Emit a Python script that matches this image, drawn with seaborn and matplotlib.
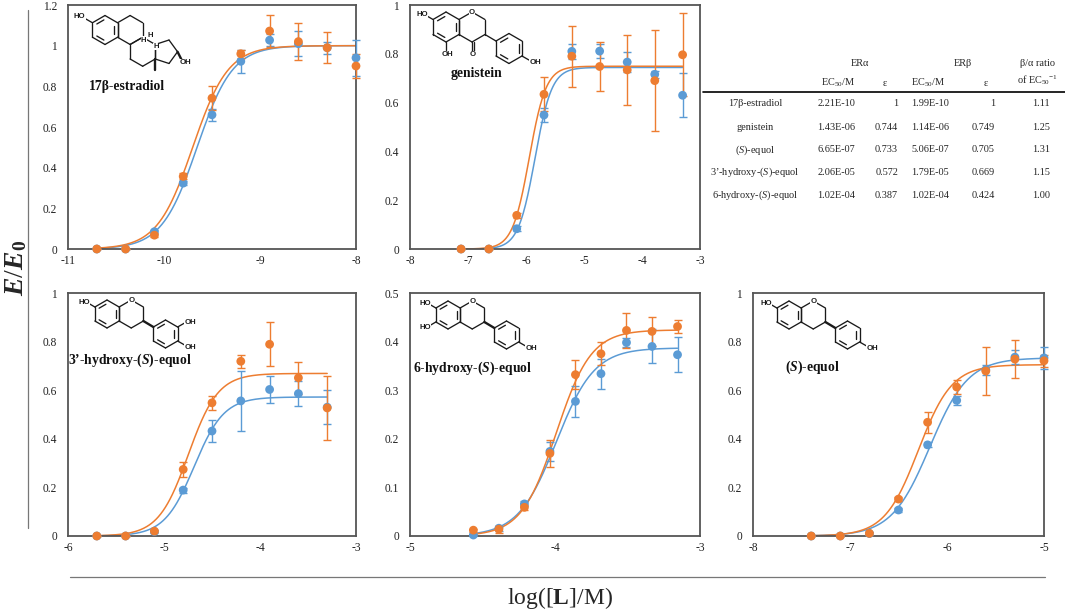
import matplotlib
matplotlib.use("Agg")
import matplotlib.pyplot as plt
import numpy as np
import pandas as pd
import seaborn as sns
from matplotlib.lines import Line2D
from matplotlib.ticker import FuncFormatter

# fitted parameters from the inset table (ERα = blue, ERβ = orange)
compounds = ["17β-estradiol", "genistein", "(S)-equol",
             "3’-hydroxy-(S)-equol", "6-hydroxy-(S)-equol"]
ec50_a = [2.21e-10, 1.43e-06, 6.65e-07, 2.06e-05, 1.02e-04]
eps_a = [1, 0.744, 0.733, 0.572, 0.387]
ec50_b = [1.99e-10, 1.14e-06, 5.06e-07, 1.79e-05, 1.02e-04]
eps_b = [1, 0.749, 0.705, 0.669, 0.424]
ratio_ba = [1.11, 1.25, 1.31, 1.15, 1.00]
# hill slopes
hill_a = [2.35, 3.0, 2.2, 2.8, 3.3]
hill_b = [2.35, 3.0, 2.5, 2.8, 3.6]

# measured points: log concentration, E/E0 and error
e2_x = [-10.7, -10.4, -10.1, -9.8, -9.5, -9.2, -8.9, -8.6, -8.3, -8.0]
e2_a = [0.0, 0.0, 0.085, 0.324, 0.66, 0.923, 1.027, 1.01, 0.99, 0.94]
e2_a_err = [0, 0, 0.01, 0.01, 0.03, 0.056, 0.03, 0.06, 0.03, 0.09]
e2_b = [0.0, 0.0, 0.068, 0.357, 0.742, 0.96, 1.072, 1.02, 0.99, 0.90]
e2_b_err = [0, 0, 0.01, 0.015, 0.06, 0.02, 0.08, 0.09, 0.077, 0.06]

gen_x = [-7.12, -6.64, -6.16, -5.69, -5.21, -4.73, -4.255, -3.78, -3.30]
gen_a = [0.0, 0.0, 0.083, 0.549, 0.81, 0.811, 0.766, 0.716, 0.63]
gen_a_err = [0, 0, 0.01, 0.03, 0.03, 0.03, 0.04, 0.015, 0.09]
gen_b = [0.0, 0.0, 0.138, 0.634, 0.79, 0.748, 0.734, 0.69, 0.796]
gen_b_err = [0, 0, 0.01, 0.07, 0.125, 0.1, 0.145, 0.207, 0.17]

eq_x = [-7.4, -7.1, -6.8, -6.5, -6.2, -5.9, -5.6, -5.3, -5.0]
eq_a = [0.0, 0.0, 0.01, 0.107, 0.375, 0.558, 0.684, 0.736, 0.733]
eq_a_err = [0, 0, 0.005, 0.01, 0.01, 0.017, 0.02, 0.03, 0.045]
eq_b = [0.0, 0.0, 0.011, 0.152, 0.468, 0.613, 0.679, 0.728, 0.721]
eq_b_err = [0, 0, 0.005, 0.01, 0.043, 0.03, 0.1, 0.078, 0.025]

h3_x = [-5.7, -5.4, -5.1, -4.8, -4.5, -4.2, -3.9, -3.6, -3.3]
h3_a = [0.0, 0.0, 0.018, 0.189, 0.432, 0.556, 0.603, 0.586, 0.53]
h3_a_err = [0, 0, 0.005, 0.01, 0.045, 0.125, 0.055, 0.05, 0.07]
h3_b = [0.0, 0.0, 0.02, 0.274, 0.548, 0.719, 0.789, 0.651, 0.527]
h3_b_err = [0, 0, 0.005, 0.03, 0.03, 0.027, 0.09, 0.065, 0.13]

h6_x = [-4.563, -4.387, -4.211, -4.035, -3.859, -3.683, -3.507, -3.331, -3.155]
h6_a = [0.002, 0.016, 0.066, 0.174, 0.277, 0.334, 0.398, 0.39, 0.373]
h6_a_err = [0.002, 0.005, 0.005, 0.02, 0.032, 0.031, 0.01, 0.035, 0.036]
h6_b = [0.012, 0.014, 0.059, 0.17, 0.332, 0.375, 0.423, 0.421, 0.431]
h6_b_err = [0.003, 0.007, 0.005, 0.028, 0.03, 0.024, 0.036, 0.03, 0.014]

BLUE = "#5B9BD5"
ORANGE = "#ED7D31"
W, H = 1065, 611

sns.set_theme(style="white")
plt.rcParams["font.family"] = ["Liberation Serif", "DejaVu Serif"]
plt.rcParams["mathtext.fontset"] = "custom"
plt.rcParams["mathtext.rm"] = "Liberation Serif"
plt.rcParams["mathtext.it"] = "Liberation Serif:italic"
plt.rcParams["mathtext.bf"] = "Liberation Serif:bold"
plt.rcParams["mathtext.bfit"] = "Liberation Serif:italic:bold"


def rect(x0, y0, x1, y1):
    return [x0 / W, 1 - y1 / H, (x1 - x0) / W, (y1 - y0) / H]


def hill(x, ec50, top, n):
    return top / (1 + 10 ** (n * (np.log10(ec50) - x)))


# --- little skeletal drawings of the molecules (pixel offsets from the axes top-left) ---
class Sketch:
    def __init__(self, ax, box):
        self.ax = ax
        self.w = box[2] * W
        self.h = box[3] * H

    def tf(self, x, y):
        return x / self.w, 1 - y / self.h

    def line(self, p, q, lw=0.95):
        (x0, y0), (x1, y1) = self.tf(*p), self.tf(*q)
        self.ax.add_artist(Line2D([x0, x1], [y0, y1], transform=self.ax.transAxes,
                                  color="#1a1a1a", lw=lw, zorder=1, solid_capstyle="round"))

    def ring(self, cx, cy, r, arom=False):
        ang = np.deg2rad(90 + 60 * np.arange(7))
        pts = [(cx + r * np.cos(a), cy - r * np.sin(a)) for a in ang]
        for i in range(6):
            self.line(pts[i], pts[i + 1])
        if arom:
            for i in (0, 2, 4):
                sh = lambda v: (cx + 0.74 * (v[0] - cx), cy + 0.74 * (v[1] - cy))
                a, b = sh(pts[i]), sh(pts[i + 1])
                m = lambda u, v, t: (u[0] + t * (v[0] - u[0]), u[1] + t * (v[1] - u[1]))
                self.line(m(a, b, 0.12), m(a, b, 0.88))
        return pts[:6]

    def pent(self, cx, cy, r):
        R = 0.851 * r
        ang = np.deg2rad(144 + 72 * np.arange(6))
        pts = [(cx + R * np.cos(a), cy + R * np.sin(a)) for a in ang]
        for i in range(5):
            self.line(pts[i], pts[i + 1])
        return pts[:5]

    def atom(self, x, y, s):
        self.ax.text(*self.tf(x, y), s, transform=self.ax.transAxes, ha="center", va="center",
                     fontsize=5.6, fontweight="bold", family=["Liberation Sans", "DejaVu Sans"],
                     color="#1a1a1a", zorder=1.5,
                     bbox=dict(boxstyle="square,pad=0.05", fc="white", ec="none"))


def off(p, dx, dy):
    return (p[0] + dx, p[1] + dy)


def draw_estradiol(sk):
    r = 14.5
    s3 = 3 ** 0.5
    a = sk.ring(37, 25, r, arom=True)
    b = sk.ring(37 + r * s3, 25, r)
    c = sk.ring(37 + 1.5 * r * s3, 25 + 1.5 * r, r)
    d = sk.pent(c[4][0] + 0.688 * r, 25 + 1.5 * r, r)
    sk.line(a[1], off(a[1], -7, -4))
    sk.atom(a[1][0] - 13, a[1][1] - 6, "HO")
    sk.line(d[3], off(d[3], 4, 8), lw=1.7)
    sk.atom(d[3][0] + 8, d[3][1] + 11, "OH")
    sk.line(c[4], off(c[4], 0, 11), lw=1.7)
    sk.atom(b[4][0] + 1, b[4][1] + 3, "H")
    sk.atom(c[5][0] + 1, c[5][1] + 2, "H")
    sk.atom(c[0][0] + 8, c[0][1] - 2, "H")


def draw_genistein(sk):
    r = 15
    s3 = 3 ** 0.5
    a = sk.ring(36, 22, r, arom=True)
    c = sk.ring(36 + r * s3, 22, r)
    p = off(c[4], 11, 6.5)
    b = sk.ring(p[0] + r * s3 / 2, p[1] + r / 2, r, arom=True)
    sk.line(c[4], b[1])
    sk.line(a[1], off(a[1], -6, -3.5))
    sk.atom(a[1][0] - 11, a[1][1] - 5, "HO")
    sk.atom(c[0][0], c[0][1], "O")
    sk.line(c[3], off(c[3], 0, 9))
    sk.line(off(c[3], 2, 0), off(c[3], 2, 9))
    sk.atom(c[3][0] + 1, c[3][1] + 13, "O")
    sk.line(a[3], off(a[3], 0, 8))
    sk.atom(a[3][0] + 1, a[3][1] + 13, "OH")
    sk.line(b[4], off(b[4], 7, 4))
    sk.atom(b[4][0] + 13, b[4][1] + 6, "OH")


def draw_equol(sk, x0, y0, oh3=False, oh6=False):
    r = 14
    s3 = 3 ** 0.5
    a = sk.ring(x0, y0, r, arom=True)
    c = sk.ring(x0 + r * s3, y0, r)
    p = off(c[4], 10, 6)
    b = sk.ring(p[0] + r * s3 / 2, p[1] + r / 2, r, arom=True)
    sk.line(c[4], b[1], lw=1.7)
    sk.atom(c[0][0], c[0][1], "O")
    sk.line(a[1], off(a[1], -6, -3.5))
    sk.atom(a[1][0] - 11, a[1][1] - 5, "HO")
    if oh6:
        sk.line(a[2], off(a[2], -6, 3.5))
        sk.atom(a[2][0] - 11, a[2][1] + 5, "HO")
    sk.line(b[4], off(b[4], 7, 4))
    sk.atom(b[4][0] + 13, b[4][1] + 6, "OH")
    if oh3:
        sk.line(b[5], off(b[5], 7, -4))
        sk.atom(b[5][0] + 13, b[5][1] - 5, "OH")


panels = [
    # compound, points, box, xlim, ylim, ystep, label position
    (0, (e2_x, e2_a, e2_a_err, e2_b, e2_b_err), rect(68, 5, 356, 249), (-11, -8), (0, 1.2), 0.2, (0.205, 0.664)),
    (1, (gen_x, gen_a, gen_a_err, gen_b, gen_b_err), rect(410, 5, 700, 249), (-8, -3), (0, 1.0), 0.2, (0.231, 0.721)),
    (3, (h3_x, h3_a, h3_a_err, h3_b, h3_b_err), rect(68, 293, 356, 536), (-6, -3), (0, 1.0), 0.2, (0.215, 0.724)),
    (4, (h6_x, h6_a, h6_a_err, h6_b, h6_b_err), rect(410, 293, 700, 536), (-5, -3), (0, 0.5), 0.1, (0.217, 0.691)),
    (2, (eq_x, eq_a, eq_a_err, eq_b, eq_b_err), rect(753, 293, 1044, 536), (-8, -5), (0, 1.0), 0.2, (0.203, 0.695)),
]

fig = plt.figure(figsize=(W / 100, H / 100), dpi=100)

for ci, (x, ya, ea, yb, eb), box, xlim, ylim, ystep, lab in panels:
    ax = fig.add_axes(box)

    xs = np.linspace(min(x), max(x), 300)
    curves = pd.DataFrame({
        "x": np.concatenate([xs, xs]),
        "y": np.concatenate([hill(xs, ec50_a[ci], eps_a[ci], hill_a[ci]),
                             hill(xs, ec50_b[ci], eps_b[ci], hill_b[ci])]),
        "receptor": ["ERa"] * len(xs) + ["ERb"] * len(xs),
    })
    sns.lineplot(data=curves, x="x", y="y", hue="receptor", palette=[BLUE, ORANGE],
                 linewidth=1.1, legend=False, ax=ax, zorder=2)

    for yy, ee, col in [(ya, ea, BLUE), (yb, eb, ORANGE)]:
        eb_art = ax.errorbar(x, yy, yerr=ee, fmt="none", ecolor=col, elinewidth=1.0,
                             capsize=3, capthick=1.0, zorder=3)
        for a in eb_art.lines[1] + eb_art.lines[2]:
            a.set_clip_on(False)

    pts = pd.DataFrame({
        "x": list(x) + list(x),
        "y": list(ya) + list(yb),
        "receptor": ["ERa"] * len(x) + ["ERb"] * len(x),
    })
    sns.scatterplot(data=pts, x="x", y="y", hue="receptor", palette=[BLUE, ORANGE],
                    s=40, edgecolor="none", linewidth=0, legend=False, ax=ax, zorder=4,
                    clip_on=False)

    ax.set_xlim(*xlim)
    ax.set_ylim(*ylim)
    ax.set_xticks(np.arange(xlim[0], xlim[1] + 0.5, 1))
    ax.set_yticks(np.arange(ylim[0], ylim[1] + ystep / 2, ystep))
    ax.xaxis.set_major_formatter(FuncFormatter(lambda v, p: f"{v:g}"))
    ax.yaxis.set_major_formatter(FuncFormatter(lambda v, p: f"{round(v, 2):g}"))
    ax.tick_params(length=0, labelsize=8.3, colors="#222222")
    ax.tick_params(axis="y", pad=8)
    ax.tick_params(axis="x", pad=4)
    ax.set_xlabel("")
    ax.set_ylabel("")
    for sp in ax.spines.values():
        sp.set_color("#555555")
        sp.set_linewidth(1.3)

    name = compounds[ci].replace("(S)", r"($\mathbfit{S}$)")
    ax.text(lab[0], lab[1], name, transform=ax.transAxes, ha="center", va="center",
            fontsize=9.8, fontweight="bold", color="#111111")

    sk = Sketch(ax, box)
    if ci == 0:
        draw_estradiol(sk)
    elif ci == 1:
        draw_genistein(sk)
    elif ci == 2:
        draw_equol(sk, 36, 22)
    elif ci == 3:
        draw_equol(sk, 39, 21, oh3=True)
    else:
        draw_equol(sk, 38, 22, oh6=True)

# shared axis titles
fig.add_artist(Line2D([28 / W, 28 / W], [1 - 10 / H, 1 - 528 / H], color="#777777", lw=0.9))
fig.add_artist(Line2D([70 / W, 1045 / W], [1 - 577 / H, 1 - 577 / H], color="#777777", lw=0.9))
fig.text(16 / W, 1 - 268 / H, r"$\mathbfit{E}/\mathbfit{E}_{\mathbf{0}}$", rotation=90,
         ha="center", va="center", fontsize=20)
fig.text(560 / W, 1 - 598 / H, r"log([$\mathbf{L}$]/M)", ha="center", va="center", fontsize=17)

# inset table
ts = 7.4
fig.text(860 / W, 1 - 63 / H, "ERα", ha="center", va="center", fontsize=ts)
fig.text(963 / W, 1 - 63 / H, "ERβ", ha="center", va="center", fontsize=ts)
fig.text(1038 / W, 1 - 64 / H, "β/α ratio", ha="center", va="center", fontsize=ts)
fig.text(838 / W, 1 - 83 / H, r"EC$_{50}$/M", ha="center", va="center", fontsize=ts)
fig.text(885 / W, 1 - 83 / H, "ε", ha="center", va="center", fontsize=ts)
fig.text(928 / W, 1 - 83 / H, r"EC$_{50}$/M", ha="center", va="center", fontsize=ts)
fig.text(986 / W, 1 - 83 / H, "ε", ha="center", va="center", fontsize=ts)
fig.text(1038 / W, 1 - 80 / H, r"of EC$_{50}{}^{-1}$", ha="center", va="center", fontsize=ts)
fig.add_artist(Line2D([703 / W, 1065 / W], [1 - 92 / H, 1 - 92 / H], color="black", lw=1.2))

row_y = [104, 127, 150, 172, 195]
for i, ry in enumerate(row_y):
    yy = 1 - ry / H
    fig.text(755 / W, yy, compounds[i].replace("(S)", r"($\mathit{S}$)"),
             ha="center", va="center", fontsize=ts)
    fig.text(836 / W, yy, f"{ec50_a[i]:.2E}", ha="center", va="center", fontsize=ts)
    fig.text(898 / W, yy, f"{eps_a[i]:g}", ha="right", va="center", fontsize=ts)
    fig.text(930 / W, yy, f"{ec50_b[i]:.2E}", ha="center", va="center", fontsize=ts)
    fig.text(995 / W, yy, f"{eps_b[i]:g}", ha="right", va="center", fontsize=ts)
    fig.text(1050 / W, yy, f"{ratio_ba[i]:.2f}", ha="right", va="center", fontsize=ts)

fig.savefig("out.png", dpi=100)
